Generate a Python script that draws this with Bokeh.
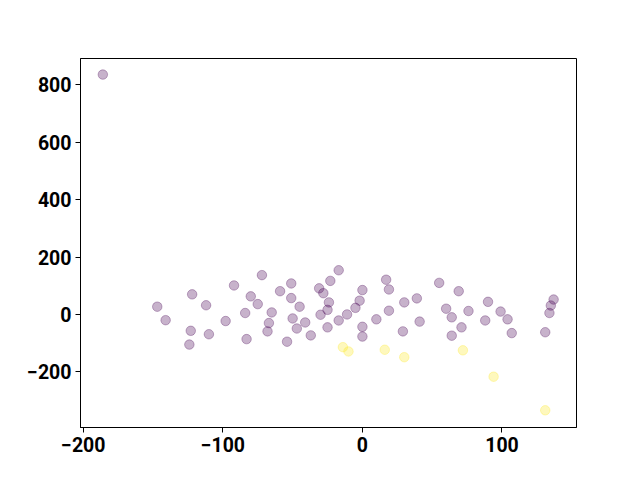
from bokeh.plotting import figure
from bokeh.models import Range1d, FixedTicker, CustomJSTickFormatter, ColumnDataSource
from bokeh.embed import file_html
from bokeh.resources import INLINE

# purple group (class 0)
x0 = [-186, -147, -141, -122, -123, -124, -112, -110, -98, -92, -80, -84, -83, -72, -75,
      -65, -67, -68, -54, -59, -51, -51, -45, -50, -47, -41, -37, -17, -23, -31, -28, 0,
      -24, -25, -2, -5, -11, -17, -30, -25, 0, 0, 10, 17, 19, 19, 30, 39, 41, 29, 55, 69,
      60, 64, 76, 90, 88, 99, 104, 107, 71, 64, 137, 135, 134, 131]
y0 = [836, 27, -20, 70, -57, -105, 32, -69, -23, 101, 63, 5, -86, 137, 36,
      7, -30, -59, -95, 81, 108, 57, 27, -14, -49, -28, -73, 154, 117, 91, 74, 85,
      42, 16, 48, 23, 0, -21, -1, -45, -43, -77, -17, 121, 87, 13, 42, 56, -25, -59, 110, 81,
      20, -10, 12, 44, -21, 10, -17, -65, -45, -74, 52, 31, 5, -62]
# yellow group (class 1)
x1 = [-14, -10, 16, 30, 72, 94, 131]
y1 = [-114, -129, -123, -149, -125, -217, -334]

x_ticks = [-200, -100, 0, 100]
y_ticks = [-200, 0, 200, 400, 600, 800]

p = figure(frame_width=496, frame_height=369, output_backend="svg", toolbar_location=None,
           x_range=Range1d(-202, 153.4), y_range=Range1d(-394, 892),
           min_border_left=80, min_border_right=40, min_border_top=58, min_border_bottom=37)
p.background_fill_color = "white"
p.border_fill_color = "white"
p.outline_line_color = "black"
p.outline_line_width = 1
p.grid.visible = False

fmt = CustomJSTickFormatter(code="return tick.toString().replace('-', '\u2212');")
for ax, t in ((p.xaxis, x_ticks), (p.yaxis, y_ticks)):
    ax.ticker = FixedTicker(ticks=t)
    ax.formatter = fmt
    ax.major_label_text_font = "Roboto"
    ax.major_label_text_font_style = "bold"
    ax.major_label_text_font_size = "19.5px"
    ax.major_label_text_color = "black"
    ax.minor_tick_line_color = None
    ax.major_tick_in = 0
    ax.major_tick_out = 5
    ax.major_tick_line_color = "black"
    ax.axis_line_color = "black"
    ax.major_label_standoff = 4

src0 = ColumnDataSource(dict(x=x0, y=y0))
src1 = ColumnDataSource(dict(x=x1, y=y1))
p.scatter("x", "y", source=src0, size=9.5, fill_color="#440154", fill_alpha=0.3,
          line_color="#440154", line_alpha=0.3, line_width=1)
p.scatter("x", "y", source=src1, size=9.5, fill_color="#fde725", fill_alpha=0.3,
          line_color="#fde725", line_alpha=0.3, line_width=1)

open("out.html", "w").write(file_html(p, INLINE))
